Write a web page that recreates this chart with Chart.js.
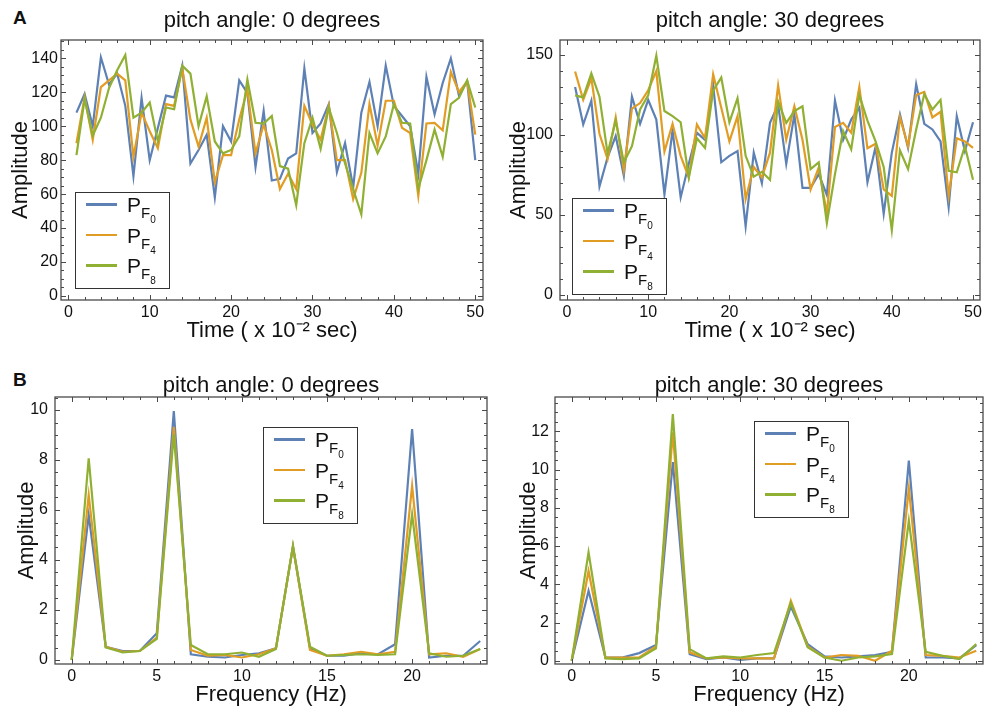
<!DOCTYPE html>
<html>
<head>
<meta charset="utf-8">
<title>Pitch angle amplitude and spectrum</title>
<script src="https://cdn.jsdelivr.net/npm/chart.js@4.4.1/dist/chart.umd.min.js"></script>
<style>
  html, body { margin: 0; padding: 0; background: #fff; overflow: hidden; }
  body { width: 985px; height: 713px; position: relative; font-family: 'Liberation Sans', Arial, sans-serif; color: #111; }
  canvas { position: absolute; }
  .panel-letter { position: absolute; font-weight: bold; font-size: 19px; line-height: 19px; }
  .legend { position: absolute; width: 95px; height: 97px; box-sizing: border-box; border: 1.5px solid #333; background: #fff; }
  .legend .swatch { position: absolute; left: 10px; width: 31px; height: 2.4px; }
  .legend .name { position: absolute; left: 51px; font-size: 21px; line-height: 21px; white-space: nowrap; }
  .legend .f { font-size: 15px; vertical-align: -6px; }
  .legend .n { font-size: 10px; vertical-align: -5px; }
</style>
</head>
<body>
<div class="panel-letter" style="left:13px;top:8px;">A</div>
<div class="panel-letter" style="left:13px;top:370px;">B</div>
<canvas id="cA0" width="492" height="350" style="left:0px;top:0px;"></canvas>
<canvas id="cA30" width="490" height="350" style="left:495px;top:0px;"></canvas>
<canvas id="cB0" width="492" height="358" style="left:0px;top:355px;"></canvas>
<canvas id="cB30" width="490" height="358" style="left:495px;top:355px;"></canvas>

<script>
// ---- sample positions ----
const timeSteps = [1,2,3,4,5,6,7,8,9,10,11,12,13,14,15,16,17,18,19,20,21,22,23,24,25,
                   26,27,28,29,30,31,32,33,34,35,36,37,38,39,40,41,42,43,44,45,46,47,48,49,50];
const freqBins = [0,1,2,3,4,5,6,7,8,9,10,11,12,13,14,15,16,17,18,19,20,21,22,23,24];

// ---- series naming / colours ----
const seriesSubs = ['0', '4', '8'];
const seriesColors = ['#5E81B5', '#E19C24', '#8FB032'];

// ---- time-domain amplitude, pitch angle 0 degrees ----
const timeP0_F0 = [108,119,100,140.6,124.5,131,112,70.6,116.7,80,99,118,117,135.7,78,86,95,58,100,91,
                   127,119.6,76,109,68,69,81,84,134,96,101.6,113,73,90,64,108,126,100,135.7,112,
                   106,100,72,129,107,125.5,140,118,126.5,80];
const timeP0_F4 = [90,117,92,123,127,131,127,82,108,97,87,113,112,134,104,88,105,67,83,83,
                   104,121.6,84,101,86,63,72,63,112,101,92,112,80,80,57,72.5,113,88.6,115,115,
                   99,96,59,101.6,102,97.6,132,120,126.5,95];
const timeP0_F8 = [83,116,94.5,105,122.5,133,142,105,108,114,91,111,110,135.7,131,100,117.6,91,84,86,
                   94,127.5,102,101.6,106,76.5,75,53.5,90,105,86.7,111,96,78,63,48,96,84,94,113,
                   102,101.6,63,80,98,82,113,116.7,127,111];

// ---- time-domain amplitude, pitch angle 30 degrees ----
const timeP30_F0 = [130,106.6,121.5,67.8,86,99.4,74.6,124,107,122,109.7,63,103,61,82,101.4,97,131,83,87,
                    90,43,89,70,107.6,119,82,112.8,67,67,75.6,62.6,121.5,97,109.7,117,70.5,92.6,50.8,89,
                    112.8,92,131.8,107,103.5,96,55,111.8,90,108];
const timeP30_F4 = [139.7,122,135.5,100.8,85,111,78,116.5,120,128,140,89.7,107,87,73.5,106.6,98,138,117,96,
                    111.8,60,80,73.5,89,131,97,118,97,66,79.7,50.8,105,107.6,101.4,130,91.7,94.6,66,62,
                    111,93,125,127,111,114.5,62,98,96,92];
const timeP30_F8 = [124.8,123.5,138.6,124,88.4,109,82.9,93,116,124.8,149.6,115,111.8,108,73.5,98,92,127.7,136,108,
                    123,87,74,77,72,121,107.6,115,118,78.7,82.9,45,75.6,102.5,91,125,109,96,80,40.5,
                    90.5,78.7,103.5,125.6,116,122,77.7,76.7,93,72];

// ---- spectra, pitch angle 0 degrees ----
const specP0_F0 = [0,5.8,0.53,0.36,0.36,1.07,9.96,0.23,0.13,0.1,0.2,0.27,0.47,4.53,0.47,0.17,0.17,0.27,0.23,0.63,9.24,0.1,0.17,0.17,0.76];
const specP0_F4 = [0,6.6,0.53,0.33,0.36,0.9,9.33,0.4,0.17,0.2,0.1,0.23,0.47,4.53,0.4,0.17,0.23,0.33,0.23,0.33,6.97,0.23,0.27,0.13,0.44];
const specP0_F8 = [0,8.07,0.5,0.3,0.36,0.84,9.03,0.6,0.23,0.23,0.3,0.13,0.44,4.57,0.53,0.17,0.2,0.23,0.2,0.23,5.83,0.27,0.13,0.17,0.44];

// ---- spectra, pitch angle 30 degrees ----
const specP30_F0 = [0,3.66,0.17,0.17,0.4,0.82,10.4,0.35,0.09,0.17,0.05,0.12,0.12,2.84,0.87,0.23,0.17,0.23,0.3,0.47,10.47,0.17,0.17,0.12,0.82];
const specP30_F4 = [0,4.7,0.17,0.17,0.17,0.75,11.95,0.44,0.12,0.17,0.12,0.12,0.12,3.14,0.75,0.17,0.3,0.26,0,0.52,9.02,0.3,0.26,0.17,0.52];
const specP30_F8 = [0,5.67,0.12,0.09,0.12,0.65,12.9,0.61,0.12,0.23,0.17,0.3,0.4,3.02,0.7,0.17,0,0.17,0.23,0.35,7.33,0.47,0.26,0.09,0.87];

// ---- tick labels ----
const timeTicks = [0,10,20,30,40,50];
const freqTicks = [0,5,10,15,20];
const ampTicksP0 = [0,20,40,60,80,100,120,140];
const ampTicksP30 = [0,50,100,150];
const specTicksP0 = [0,2,4,6,8,10];
const specTicksP30 = [0,2,4,6,8,10,12];

Chart.defaults.font.family = "'Liberation Sans', Arial, sans-serif";
Chart.defaults.color = '#111';

// Frame around the plot area with inward major/minor ticks on all four sides
const frameTicks = {
  id: 'frameTicks',
  afterDatasetsDraw(chart, args, o) {
    const {ctx, chartArea: a} = chart;
    const xs = chart.scales.x, ys = chart.scales.y;
    const steps = (s, step) => {
      const out = [];
      for (let k = Math.ceil(s.min / step); k * step <= s.max + 1e-9; k++) out.push(+(k * step).toFixed(6));
      return out;
    };
    const isMajor = (v, s) => s.ticks.some(t => Math.abs(t.value - v) < 1e-6);
    ctx.save();
    ctx.strokeStyle = o.color;
    ctx.lineWidth = 1;
    ctx.beginPath();
    for (const v of steps(xs, o.xMinor)) {
      const len = isMajor(v, xs) ? o.major : o.minor;
      const px = Math.round(xs.getPixelForValue(v)) + 0.5;
      ctx.moveTo(px, a.bottom); ctx.lineTo(px, a.bottom - len);
      ctx.moveTo(px, a.top); ctx.lineTo(px, a.top + len);
    }
    for (const v of steps(ys, o.yMinor)) {
      const len = isMajor(v, ys) ? o.major : o.minor;
      const py = Math.round(ys.getPixelForValue(v)) + 0.5;
      ctx.moveTo(a.left, py); ctx.lineTo(a.left + len, py);
      ctx.moveTo(a.right, py); ctx.lineTo(a.right - len, py);
    }
    ctx.stroke();
    ctx.lineWidth = 1.3;
    ctx.strokeRect(a.left, a.top, a.width, a.height);
    ctx.restore();
  }
};

function buildLegend(left, top) {
  const box = document.createElement('div');
  box.className = 'legend';
  box.style.left = left + 'px';
  box.style.top = top + 'px';
  const rows = [11.5, 42, 72.5];
  seriesSubs.forEach((sub, i) => {
    const sw = document.createElement('div');
    sw.className = 'swatch';
    sw.style.top = (rows[i] - 1.2) + 'px';
    sw.style.background = seriesColors[i];
    box.appendChild(sw);
    const nm = document.createElement('div');
    nm.className = 'name';
    nm.style.top = (rows[i] - 10.5) + 'px';
    nm.innerHTML = 'P<span class="f">F<span class="n">' + sub + '</span></span>';
    box.appendChild(nm);
  });
  document.body.appendChild(box);
}

function drawPanel(p) {
  const datasets = p.series.map((vals, i) => ({
    label: 'PF' + seriesSubs[i],
    data: vals.map((v, k) => ({x: p.xs[k], y: v})),
    borderColor: seriesColors[i],
    backgroundColor: seriesColors[i],
    borderWidth: 2.2,
    pointRadius: 0,
    tension: 0,
    fill: false,
    order: p.series.length - 1 - i
  }));
  new Chart(document.getElementById(p.id), {
    type: 'line',
    data: {datasets},
    options: {
      responsive: false,
      animation: false,
      devicePixelRatio: 1,
      events: [],
      layout: {autoPadding: false, padding: {left: 0, top: 0, right: p.padRight, bottom: 0}},
      plugins: {
        legend: {display: false},
        tooltip: {enabled: false},
        frameTicks: {color: '#4a4a4a', major: 5, minor: 3, xMinor: p.xMinor, yMinor: p.yMinor}
      },
      scales: {
        x: {
          type: 'linear', position: 'bottom', min: p.xMin, max: p.xMax,
          afterBuildTicks: s => { s.ticks = p.xTicks.map(v => ({value: v})); },
          afterFit: s => { s.height = p.bottomH; },
          grid: {display: false, drawTicks: false},
          border: {display: false},
          ticks: {font: {size: 16}, padding: p.xTickPad, maxRotation: 0, autoSkip: false},
          title: {display: true, text: p.xTitle, font: {size: 22}, padding: {top: 0, bottom: p.xTitlePad}}
        },
        xTitle: {
          axis: 'x', type: 'linear', position: 'top', display: true,
          afterFit: s => { s.height = p.topH; },
          grid: {display: false, drawTicks: false},
          border: {display: false},
          ticks: {display: false},
          title: {display: true, text: p.title, font: {size: 22}, padding: {top: p.titlePad, bottom: 0}}
        },
        y: {
          type: 'linear', position: 'left', min: p.yMin, max: p.yMax,
          afterBuildTicks: s => { s.ticks = p.yTicks.map(v => ({value: v})); },
          afterFit: s => { s.width = p.yW; },
          grid: {display: false, drawTicks: false},
          border: {display: false},
          ticks: {font: {size: 16}, padding: p.yTickPad, autoSkip: false},
          title: {display: true, text: 'Amplitude', font: {size: 22}, padding: {top: p.yTitlePad, bottom: 0}}
        }
      }
    },
    plugins: [frameTicks]
  });
}

const timeTitle = 'Time ( x 10\u207B\u00B2 sec)';
const freqTitle = 'Frequency (Hz)';

drawPanel({
  id: 'cA0', xs: timeSteps, series: [timeP0_F0, timeP0_F4, timeP0_F8],
  title: 'pitch angle: 0 degrees', xTitle: timeTitle,
  xMin: -0.9, xMax: 50.95, yMin: -2.4, yMax: 150.8,
  xTicks: timeTicks, yTicks: ampTicksP0, xMinor: 2, yMinor: 5,
  padRight: 9, topH: 40, bottomH: 50, yW: 61,
  xTickPad: 3, yTickPad: 3, xTitlePad: 6, titlePad: 7.8, yTitlePad: 7.8
});
drawPanel({
  id: 'cA30', xs: timeSteps, series: [timeP30_F0, timeP30_F4, timeP30_F8],
  title: 'pitch angle: 30 degrees', xTitle: timeTitle,
  xMin: -0.86, xMax: 50.86, yMin: -3.1, yMax: 159.4,
  xTicks: timeTicks, yTicks: ampTicksP30, xMinor: 2, yMinor: 10,
  padRight: 3, topH: 40, bottomH: 50, yW: 65,
  xTickPad: 3, yTickPad: 7, xTitlePad: 6, titlePad: 7.8, yTitlePad: 10.8
});
drawPanel({
  id: 'cB0', xs: freqBins, series: [specP0_F0, specP0_F4, specP0_F8],
  title: 'pitch angle: 0 degrees', xTitle: freqTitle,
  xMin: -0.98, xMax: 24.4, yMin: -0.16, yMax: 10.52,
  xTicks: freqTicks, yTicks: specTicksP0, xMinor: 1, yMinor: 0.5,
  padRight: 5, topH: 42, bottomH: 49, yW: 55,
  xTickPad: 3, yTickPad: 7, xTitlePad: 4.8, titlePad: 17.4, yTitlePad: 13.8
});
drawPanel({
  id: 'cB30', xs: freqBins, series: [specP30_F0, specP30_F4, specP30_F8],
  title: 'pitch angle: 30 degrees', xTitle: freqTitle,
  xMin: -0.99, xMax: 24.4, yMin: -0.17, yMax: 13.8,
  xTicks: freqTicks, yTicks: specTicksP30, xMinor: 1, yMinor: 0.5,
  padRight: 2, topH: 42, bottomH: 49, yW: 60,
  xTickPad: 3, yTickPad: 6, xTitlePad: 4.8, titlePad: 17.4, yTitlePad: 20.8
});

buildLegend(75, 192);
buildLegend(572, 198);
buildLegend(263, 427);
buildLegend(754, 421);
</script>
</body>
</html>
